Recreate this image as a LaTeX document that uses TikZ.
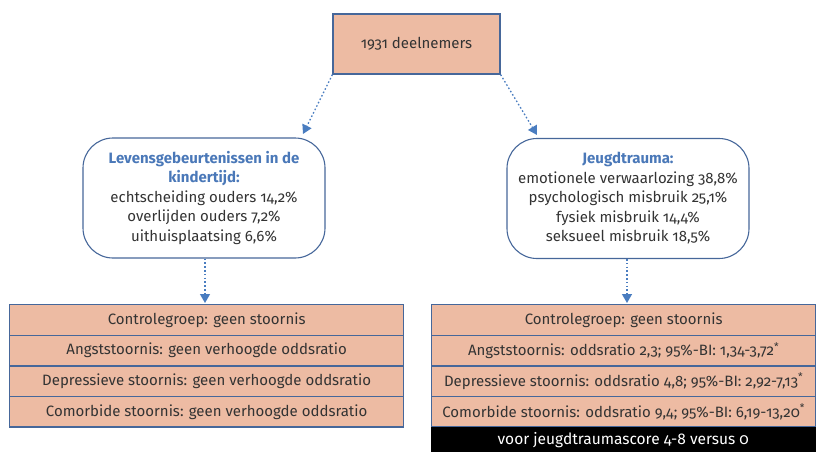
\documentclass[tikz,border=0pt]{standalone}
\usepackage{fontspec}
\setmainfont{Fira Sans}[Numbers=OldStyle]
\usetikzlibrary{arrows.meta}
\definecolor{salmon}{HTML}{EDBBA3}
\definecolor{frame}{HTML}{46679A}
\definecolor{arrowblue}{HTML}{4A7DC0}
\definecolor{headblue}{HTML}{4A78B8}
\definecolor{txt}{HTML}{333333}
\tikzset{
  base/.style={font=\fontsize{15}{19.5}\selectfont, text=txt},
  topbox/.style={base, draw=frame, line width=1.2pt, fill=salmon, minimum width=167pt, minimum height=60pt, inner sep=0pt},
  roundbox/.style={base, draw=frame, line width=1.1pt, rounded corners=30pt, minimum width=242pt, minimum height=120pt, align=center, inner sep=0pt},
  cell/.style={base, draw=frame, line width=1.3pt, fill=salmon, minimum height=30.6pt, inner sep=0pt, anchor=north west},
  blackcell/.style={font=\fontsize{15.5}{17}\selectfont, text=white, fill=black, minimum height=25pt, inner sep=0pt, anchor=north west},
  conn/.style={draw=arrowblue, line width=1.3pt, dash pattern=on 1.6pt off 2.2pt, -{Triangle[width=10pt,length=9pt,fill=arrowblue]}},
}
\begin{document}
\begin{tikzpicture}[x=1pt,y=-1pt]
\useasboundingbox (0,0) rectangle (816,451);
\node[topbox] (top) at (416.5,44) {1931 deelnemers};
\node[roundbox] (lev) at (204,198) {\textbf{\color{headblue}Levensgebeurtenissen in de}\\\textbf{\color{headblue}kindertijd:}\\echtscheiding ouders 14,2\%\\overlijden ouders 7,2\%\\uithuisplaatsing 6,6\%};
\node[roundbox] (jt) at (628,198.5) {\textbf{\color{headblue}Jeugdtrauma:}\\emotionele verwaarlozing 38,8\%\\psychologisch misbruik 25,1\%\\fysiek misbruik 14,4\%\\seksueel misbruik 18,5\%};
\coordinate (levtip) at (303,134);
\coordinate (jttip) at (537,135);
\coordinate (ltabtip) at (205,303);
\coordinate (rtabtip) at (627,303);
\draw[conn] (top.south west) -- (levtip);
\draw[conn] (top.south east) -- (jttip);
\draw[conn] (lev.south -| ltabtip) -- (ltabtip);
\draw[conn] (jt.south -| rtabtip) -- (rtabtip);
% left table
\node[cell, minimum width=394pt] (l1) at (9,304) {Controlegroep: geen stoornis};
\node[cell, minimum width=394pt] (l2) at (9,334.6) {Angststoornis: geen verhoogde oddsratio};
\node[cell, minimum width=394pt] (l3) at (9,365.2) {Depressieve stoornis: geen verhoogde oddsratio};
\node[cell, minimum width=394pt] (l4) at (9,395.8) {Comorbide stoornis: geen verhoogde oddsratio};
% right table
\node[cell, minimum width=384pt] (r1) at (431,304) {Controlegroep: geen stoornis};
\node[cell, minimum width=384pt] (r2) at (431,334.6) {Angststoornis: oddsratio 2,3; 95\%-BI: 1,34-3,72\textsuperscript{*}};
\node[cell, minimum width=384pt] (r3) at (431,365.2) {Depressieve stoornis: oddsratio 4,8; 95\%-BI: 2,92-7,13\textsuperscript{*}};
\node[cell, minimum width=384pt] (r4) at (431,395.8) {Comorbide stoornis: oddsratio 9,4; 95\%-BI: 6,19-13,20\textsuperscript{*}};
\node[blackcell, minimum width=385pt] (r5) at (430.5,427) {voor jeugdtraumascore 4-8 versus 0};
\end{tikzpicture}
\end{document}
